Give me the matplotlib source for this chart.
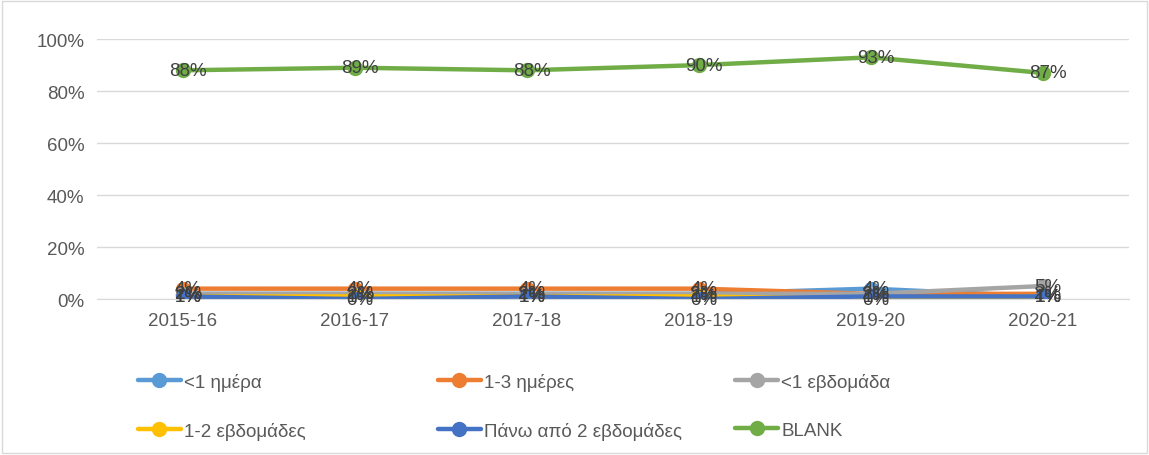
import matplotlib.pyplot as plt
from matplotlib.patches import Rectangle

plt.rcParams['font.family'] = ['Liberation Sans', 'DejaVu Sans']

# Data (shares, %)
years = ['2015-16', '2016-17', '2017-18', '2018-19', '2019-20', '2020-21']
less_1_day = [2, 2, 2, 2, 4, 1]
days_1_3 = [4, 4, 4, 4, 2, 2]
less_1_week = [2, 2, 2, 2, 2, 5]
weeks_1_2 = [1, 1, 1, 1, 0, 1]
over_2_weeks = [1, 0, 1, 0, 1, 1]
blank = [88, 89, 88, 90, 93, 87]

series = [
    ('<1 ημέρα', less_1_day, '#5B9BD5'),
    ('1-3 ημέρες', days_1_3, '#ED7D31'),
    ('<1 εβδομάδα', less_1_week, '#A5A5A5'),
    ('1-2 εβδομάδες', weeks_1_2, '#FFC000'),
    ('Πάνω από 2 εβδομάδες', over_2_weeks, '#4472C4'),
    ('BLANK', blank, '#70AD47'),
]

fig = plt.figure(figsize=(11.49, 4.56), dpi=100)
ax = fig.add_axes([0.0844, 0.342, 0.898, 0.570])

x = list(range(len(years)))
handles = []
for name, vals, color in series:
    h, = ax.plot(x, [v / 100 for v in vals], color=color, linewidth=3.2,
                 marker='o', markersize=10, label=name, solid_capstyle='round')
    handles.append(h)
    for xi, v in zip(x, vals):
        ax.text(xi + 0.03, v / 100, f'{v}%', ha='center', va='center',
                fontsize=13.5, color='#404040', zorder=5)

ax.set_xlim(-0.5, len(years) - 0.5)
ax.set_ylim(0, 1)
ax.set_yticks([0, 0.2, 0.4, 0.6, 0.8, 1.0])
ax.set_yticklabels(['0%', '20%', '40%', '60%', '80%', '100%'])
ax.set_xticks(x)
ax.set_xticklabels(years)
ax.tick_params(axis='both', length=0, labelsize=13.5, colors='#595959', pad=9)
ax.grid(axis='y', color='#D9D9D9', linewidth=1)
ax.set_axisbelow(True)
for side in ['top', 'right', 'left']:
    ax.spines[side].set_visible(False)
ax.spines['bottom'].set_color('#D9D9D9')

# Legend: three columns of two entries each
col_x = [0.120, 0.381, 0.640]
for i, cx in enumerate(col_x):
    hs = [handles[i], handles[i + 3]]
    fig.legend(hs, [h.get_label() for h in hs], loc='upper left',
               bbox_to_anchor=(cx, 0.18), frameon=False, fontsize=13.5,
               handlelength=2.3, handletextpad=0.15, labelspacing=1.65,
               labelcolor='#595959', borderaxespad=0, borderpad=0)

fig.patches.append(Rectangle((0.002, 0.004), 0.996, 0.992, transform=fig.transFigure,
                             fill=False, edgecolor='#D9D9D9', linewidth=1))

fig.savefig('out.png', dpi=100)
